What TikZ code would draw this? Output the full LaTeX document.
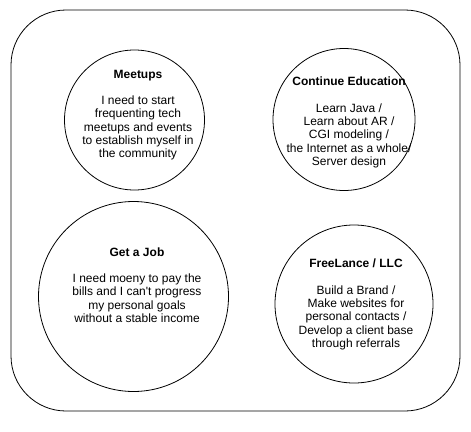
\documentclass[tikz,border=0pt]{standalone}
\usepackage{fontspec}
\setmainfont{Liberation Sans}
\usetikzlibrary{positioning,calc}
\tikzset{
outline/.style={draw=black, line width=0.8pt},
goal/.style={outline, circle, inner sep=0pt, outer sep=0pt, minimum size=#1},
goal/.default=140pt,
goaltext/.style={align=center, inner sep=0pt},
}
\tikzstyle{every node}=[font=\fontsize{12}{13.3}\selectfont]

\begin{document}
\begin{tikzpicture}[
            x=1pt, y=-1pt,
            board/.style={outline, rounded corners=55pt}
        ]
        \useasboundingbox (0,0) rectangle (471,431);

        \coordinate (M) at (134.5,120);
        \coordinate (E) at (344,119.5);
        \coordinate (J) at (133.5,296.5);
        \coordinate (F) at (354,304);

        \draw[board] (11,10) rectangle (460,411);

        \node[goal=140pt] (meetups) at (M) {};
        \node[goal=142pt] (education) at (E) {};
        \node[goal=190pt] (job) at (J) {};
        \node[goal=158pt] (freelance) at (F) {};

        \node[goaltext] (meetupsText) at ($(M)+(3.5,-5)$)
            {\textbf{Meetups}\\[13pt]
             I need to start\\ frequenting tech\\ meetups and events\\
             to establish myself in\\ the community};
        \node[goaltext] (educationText) at ($(E)+(5,3)$)
            {\textbf{Continue Education}\\[13pt]
             Learn Java /\\ Learn about AR /\\ CGI modeling /\\
             the Internet as a whole/\\ Server design};
        \node[goaltext] (jobText) at ($(J)+(3.5,-11.5)$)
            {\textbf{Get a Job}\\[13pt]
             I need moeny to pay the\\ bills and I can\textquotesingle t progress\\
             my personal goals\\ without a stable income};
        \node[goaltext] (freelanceText) at ($(F)+(2,0.5)$)
            {\textbf{FreeLance / LLC}\\[13pt]
             Build a Brand /\\ Make websites for\\ personal contacts /\\
             Develop a client base\\ through referrals};
    \end{tikzpicture}
\end{document}
